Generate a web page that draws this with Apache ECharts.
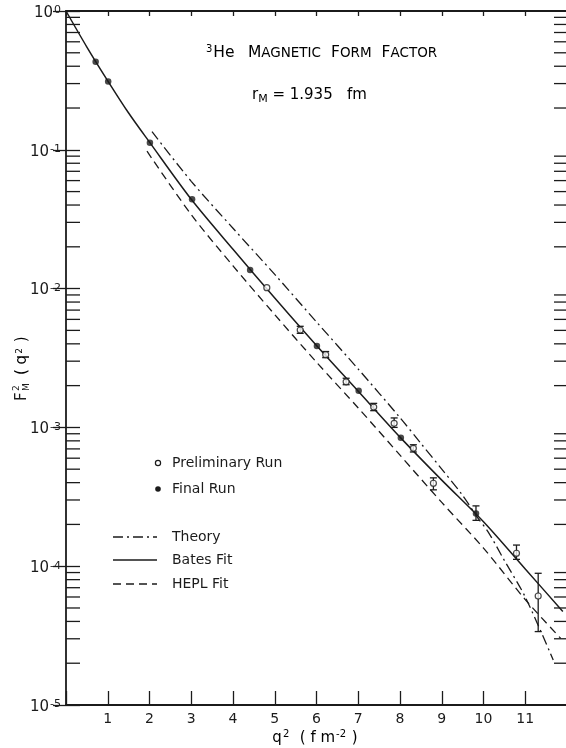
<!DOCTYPE html>
<html>
<head>
<meta charset="utf-8">
<script src="https://cdn.jsdelivr.net/npm/echarts@6/dist/echarts.min.js"></script>
<style>
  html, body { margin: 0; padding: 0; background: #fff; }
  #chart { width: 566px; height: 748px; }
</style>
</head>
<body>
<div id="chart"></div>
<script>
// q^2 axis tick labels (fm^-2) and decade exponents of the log axis
const xTickLabels = ['1', '2', '3', '4', '5', '6', '7', '8', '9', '10', '11'];
const decadeExponents = [-5, -4, -3, -2, -1, 0];

// Final run: filled circles
const finalQ2 = [0.71, 1.01, 2.01, 3.02, 4.41, 6.01, 7.01, 8.02, 9.82];
const finalF2 = [0.431, 0.311, 0.1125, 0.0440, 0.0136, 0.00386, 0.00184, 0.000843, 0.000240];
const finalErrLow = [null, null, null, null, null, null, null, null, 0.000214];
const finalErrHigh = [null, null, null, null, null, null, null, null, 0.000272];

// Preliminary run: open circles
const prelimQ2 = [4.81, 5.61, 6.22, 6.71, 7.37, 7.86, 8.32, 8.80, 10.79, 11.31];
const prelimF2 = [0.01015, 0.00503, 0.00334, 0.00213, 0.00140, 0.00107, 0.000707, 0.000396, 0.000124, 0.0000610];
const prelimErrLow = [null, 0.00476, 0.00318, 0.00203, 0.00132, 0.00100, 0.000665, 0.000355, 0.000112, 0.0000338];
const prelimErrHigh = [null, 0.00535, 0.00352, 0.00226, 0.00149, 0.00117, 0.000750, 0.000433, 0.000142, 0.0000889];

// Bates fit (solid)
const batesQ2 = [0, 0.5, 1, 1.5, 2, 3, 4, 5, 6, 7, 8, 9, 10, 11, 11.9];
const batesF2 = [1, 0.550, 0.314, 0.184, 0.1135, 0.0440, 0.0192, 0.00855, 0.00389, 0.00182, 0.000851, 0.000417, 0.000209, 0.0000955, 0.0000472];

// Theory (dash-dot)
const theoryQ2 = [2.06, 3, 4, 5, 6, 7, 8, 8.5, 9, 9.5, 9.84, 10.11, 10.5, 11, 11.67];
const theoryF2 = [0.135, 0.0593, 0.0272, 0.01265, 0.00575, 0.00263, 0.001175, 0.000767, 0.000501, 0.000324, 0.000228, 0.000177, 0.000110, 0.0000600, 0.0000211];

// HEPL fit (dashed)
const heplQ2 = [1.94, 3, 4, 5, 6, 7, 8, 9, 10, 11, 11.85];
const heplF2 = [0.0977, 0.0341, 0.01459, 0.00649, 0.00295, 0.00138, 0.000631, 0.000288, 0.000135, 0.0000575, 0.0000302];

const INK = '#1b1b1b';
const FONT = '"DejaVu Sans", sans-serif';
const Q_MIN = 0, Q_MAX = 12;
const F_MIN = 1e-5, F_MAX = 1;

const DASH_THEORY = [10, 4, 2, 4];
const DASH_HEPL = [8, 5];

// minor ticks of the log axis: 2..9 within each decade
const minorTickValues = [];
decadeExponents.slice(0, -1).forEach(e => {
  for (let m = 2; m <= 9; m++) minorTickValues.push(m * Math.pow(10, e));
});

const zip = (a, b) => a.map((v, i) => [v, b[i]]);
const errRows = (q, lo, hi) => q.map((v, i) => [v, lo[i], hi[i]]).filter(r => r[1] != null);

function renderErrorBar(params, api) {
  const x = api.value(0);
  const lo = api.coord([x, api.value(1)]);
  const hi = api.coord([x, api.value(2)]);
  const cap = 3.5;
  const st = { stroke: INK, lineWidth: 1.3 };
  return {
    type: 'group',
    children: [
      { type: 'line', shape: { x1: lo[0], y1: lo[1], x2: hi[0], y2: hi[1] }, style: st },
      { type: 'line', shape: { x1: lo[0] - cap, y1: lo[1], x2: lo[0] + cap, y2: lo[1] }, style: st },
      { type: 'line', shape: { x1: hi[0] - cap, y1: hi[1], x2: hi[0] + cap, y2: hi[1] }, style: st }
    ]
  };
}

function renderMinorTick(params, api) {
  const v = api.value(1);
  const l = api.coord([Q_MIN, v]);
  const r = api.coord([Q_MAX, v]);
  const st = { stroke: INK, lineWidth: 1.3 };
  return {
    type: 'group',
    children: [
      { type: 'line', shape: { x1: l[0], y1: l[1], x2: l[0] + 14, y2: l[1] }, style: st },
      { type: 'line', shape: { x1: r[0] - 13, y1: r[1], x2: r[0], y2: r[1] }, style: st }
    ]
  };
}

const chart = echarts.init(document.getElementById('chart'), null, { renderer: 'canvas' });

const expLabel = v => {
  const e = Math.round(Math.log10(v));
  if (!decadeExponents.includes(e)) return '';
  return '{b|10}{s|' + (e === 0 ? '0' : '-' + Math.abs(e)) + '}';
};

const baseX = {
  type: 'value', min: Q_MIN, max: Q_MAX, interval: 1,
  splitLine: { show: false },
  axisLine: { show: true, lineStyle: { color: INK, width: 1.8 } }
};
const baseY = {
  type: 'log', logBase: 10, min: F_MIN, max: F_MAX,
  splitLine: { show: false },
  axisLine: { show: true, lineStyle: { color: INK, width: 1.8 } }
};

// in-plot key
const keyFont = '14px ' + FONT;
const legendGraphics = [
  { type: 'circle', shape: { cx: 158, cy: 463, r: 2.6 }, style: { fill: '#fff', stroke: INK, lineWidth: 1.2 } },
  { type: 'text', x: 172, y: 463, style: { text: 'Preliminary Run', font: keyFont, fill: INK, verticalAlign: 'middle' } },
  { type: 'circle', shape: { cx: 158, cy: 489, r: 2.8 }, style: { fill: INK } },
  { type: 'text', x: 172, y: 489, style: { text: 'Final Run', font: keyFont, fill: INK, verticalAlign: 'middle' } },
  { type: 'line', shape: { x1: 113, y1: 537, x2: 157, y2: 537 }, style: { stroke: INK, lineWidth: 1.3, lineDash: DASH_THEORY } },
  { type: 'text', x: 172, y: 537, style: { text: 'Theory', font: keyFont, fill: INK, verticalAlign: 'middle' } },
  { type: 'line', shape: { x1: 113, y1: 560, x2: 157, y2: 560 }, style: { stroke: INK, lineWidth: 1.3 } },
  { type: 'text', x: 172, y: 560, style: { text: 'Bates Fit', font: keyFont, fill: INK, verticalAlign: 'middle' } },
  { type: 'line', shape: { x1: 113, y1: 584, x2: 157, y2: 584 }, style: { stroke: INK, lineWidth: 1.3, lineDash: DASH_HEPL } },
  { type: 'text', x: 172, y: 584, style: { text: 'HEPL Fit', font: keyFont, fill: INK, verticalAlign: 'middle' } }
];

// vertical axis title F_M^2(q^2), reading bottom-to-top
const yTitle = {
  type: 'group', x: 22, y: 401, rotation: Math.PI / 2,
  children: [
    { type: 'text', x: 0, y: 0, style: { text: 'F', font: '15px ' + FONT, fill: INK, verticalAlign: 'middle' } },
    { type: 'text', x: 10, y: 5, style: { text: 'M', font: '9px ' + FONT, fill: INK, verticalAlign: 'middle' } },
    { type: 'text', x: 10, y: -5, style: { text: '2', font: '9px ' + FONT, fill: INK, verticalAlign: 'middle' } },
    {
      type: 'text', x: 26, y: 0,
      style: {
        text: '{n|( q}{sup|2}{n| )}', verticalAlign: 'middle',
        rich: {
          n: { fontSize: 15, lineHeight: 20, fontFamily: FONT, color: INK },
          sup: { fontSize: 9, lineHeight: 9, fontFamily: FONT, color: INK, verticalAlign: 'top', padding: [3, 1, 0, 1] }
        }
      }
    }
  ]
};

const option = {
  backgroundColor: '#fff',
  animation: false,
  textStyle: { fontFamily: FONT, color: INK },
  grid: { left: 66, top: 11, width: 501, height: 694, containLabel: false, outerBoundsMode: 'none' },
  xAxis: [
    Object.assign({}, baseX, {
      position: 'bottom',
      axisTick: { show: true, inside: true, length: 14, lineStyle: { color: INK, width: 1.3 } },
      axisLabel: {
        show: true, margin: 7, fontSize: 14, color: INK, fontFamily: FONT,
        formatter: v => (v >= 1 && v <= xTickLabels.length) ? xTickLabels[v - 1] : ''
      }
    }),
    Object.assign({}, baseX, {
      position: 'top',
      axisTick: { show: true, inside: true, length: 5, lineStyle: { color: INK, width: 1.3 } },
      axisLabel: { show: false }
    })
  ],
  yAxis: [
    Object.assign({}, baseY, {
      position: 'left',
      axisTick: { show: true, inside: true, length: 14, lineStyle: { color: INK, width: 1.3 } },
      axisLabel: {
        show: true, margin: 5, color: INK, fontFamily: FONT,
        formatter: expLabel,
        rich: {
          b: { fontSize: 15, lineHeight: 16, fontFamily: FONT, color: INK, padding: [4, 0, 0, 0] },
          s: { fontSize: 11, lineHeight: 11, fontFamily: FONT, color: INK, verticalAlign: 'top', padding: [2, 0, 0, 1] }
        }
      }
    }),
    Object.assign({}, baseY, {
      position: 'right',
      axisLine: { show: false },
      axisTick: { show: true, inside: true, length: 13, lineStyle: { color: INK, width: 1.3 } },
      axisLabel: { show: false }
    })
  ],
  series: [
    {
      name: 'Bates Fit', type: 'line', data: zip(batesQ2, batesF2), smooth: 0.3,
      showSymbol: false, lineStyle: { color: INK, width: 1.5 }, z: 3
    },
    {
      name: 'Theory', type: 'line', data: zip(theoryQ2, theoryF2), smooth: 0.3,
      showSymbol: false, lineStyle: { color: INK, width: 1.3, type: DASH_THEORY }, z: 3
    },
    {
      name: 'HEPL Fit', type: 'line', data: zip(heplQ2, heplF2), smooth: 0.3,
      showSymbol: false, lineStyle: { color: INK, width: 1.3, type: DASH_HEPL }, z: 3
    },
    {
      name: 'Preliminary Run errors', type: 'custom', renderItem: renderErrorBar,
      data: errRows(prelimQ2, prelimErrLow, prelimErrHigh), z: 4, silent: true
    },
    {
      name: 'Final Run errors', type: 'custom', renderItem: renderErrorBar,
      data: errRows(finalQ2, finalErrLow, finalErrHigh), z: 4, silent: true
    },
    {
      name: 'Preliminary Run', type: 'scatter', data: zip(prelimQ2, prelimF2),
      symbol: 'circle', symbolSize: 6,
      itemStyle: { color: '#fff', borderColor: INK, borderWidth: 1.2 }, z: 5
    },
    {
      name: 'Final Run', type: 'scatter', data: zip(finalQ2, finalF2),
      symbol: 'circle', symbolSize: 6.5,
      itemStyle: { color: INK }, z: 5
    },
    {
      name: 'minor ticks', type: 'custom', renderItem: renderMinorTick,
      data: minorTickValues.map(v => [Q_MIN, v]), clip: false, silent: true, z: 6
    }
  ],
  graphic: [
    {
      type: 'text', x: 206, y: 53,
      style: {
        text: '{sup|3}{n|He}    {n|M}{sc|AGNETIC}   {n|F}{sc|ORM}   {n|F}{sc|ACTOR}',
        verticalAlign: 'middle',
        rich: {
          n: { fontSize: 15.5, lineHeight: 18, fontFamily: FONT, color: INK },
          sc: { fontSize: 13.5, lineHeight: 18, fontFamily: FONT, color: INK, verticalAlign: 'bottom', padding: [0, 0, 2, 0] },
          sup: { fontSize: 10, lineHeight: 10, fontFamily: FONT, color: INK, verticalAlign: 'top', padding: [0, 1, 0, 0] }
        }
      }
    },
    {
      type: 'text', x: 252, y: 95,
      style: {
        text: '{n|r}{sub|M}{n| = 1.935   fm}',
        verticalAlign: 'middle',
        rich: {
          n: { fontSize: 15, lineHeight: 20, fontFamily: FONT, color: INK },
          sub: { fontSize: 11, lineHeight: 12, fontFamily: FONT, color: INK, verticalAlign: 'bottom' }
        }
      }
    },
    yTitle,
    {
      type: 'text', x: 315, y: 738,
      style: {
        text: '{n|q}{sup|2}{n|  ( f m}{sup|-2}{n| )}',
        align: 'center', verticalAlign: 'middle',
        rich: {
          n: { fontSize: 15, lineHeight: 20, fontFamily: FONT, color: INK },
          sup: { fontSize: 10, lineHeight: 10, fontFamily: FONT, color: INK, verticalAlign: 'top', padding: [1, 1, 0, 1] }
        }
      }
    }
  ].concat(legendGraphics)
};

chart.setOption(option);
</script>
</body>
</html>
